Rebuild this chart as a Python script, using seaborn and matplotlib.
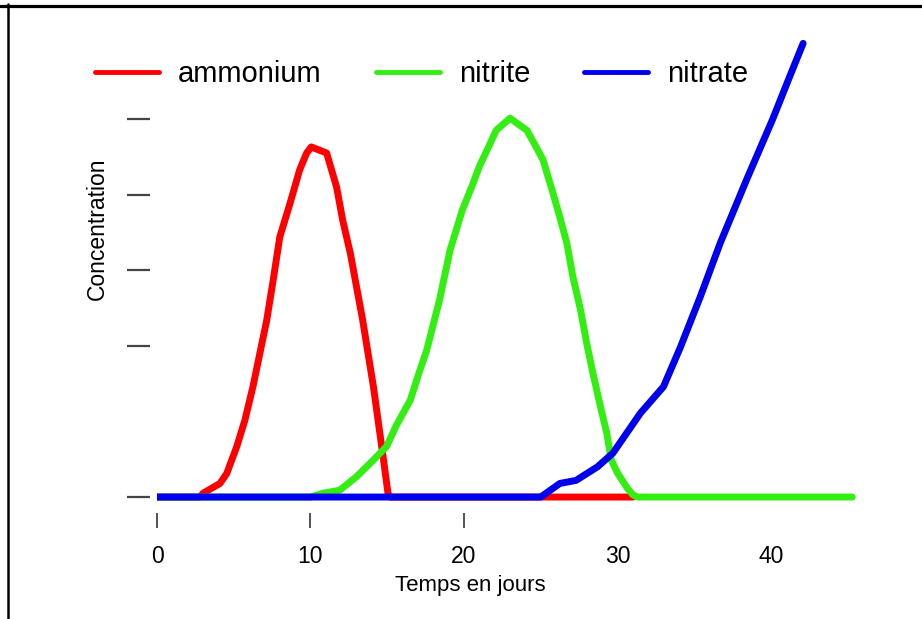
import pandas as pd
import matplotlib.pyplot as plt
import seaborn as sns
from matplotlib.lines import Line2D

# values (days, concentration in tick units)
days_ammonium = [0, 2.8, 3.0, 4.1, 4.54, 5.2, 5.73, 6.25, 6.7, 7.15, 7.57, 8.0,
                 8.66, 9.3, 9.75, 10.05, 11.05, 11.7, 12.1, 12.6, 13.0, 13.4,
                 13.75, 14.1, 14.4, 14.7, 15.05, 15.2, 31]
ammonium = [0, 0, 0.05, 0.18, 0.31, 0.67, 1.02, 1.46, 1.9, 2.34, 2.87, 3.44,
            3.88, 4.33, 4.55, 4.63, 4.55, 4.1, 3.66, 3.22, 2.78, 2.34,
            1.9, 1.46, 1.02, 0.58, 0.05, 0, 0]

days_nitrite = [0, 10, 10.8, 11.9, 13.0, 14.1, 14.96, 15.6, 16.5, 17.1, 17.57,
                18.4, 19.1, 19.9, 20.5, 21.0, 21.6, 22.1, 23.0, 24.1, 24.7,
                25.15, 25.8, 26.25, 26.7, 27.1, 27.6, 28.0, 28.4, 28.9, 29.3,
                29.6, 30.0, 30.6, 31.0, 31.3, 45.3]
nitrite = [0, 0, 0.05, 0.09, 0.27, 0.49, 0.67, 0.95, 1.28, 1.66, 1.94,
           2.6, 3.27, 3.8, 4.1, 4.37, 4.63, 4.85, 5.01, 4.85, 4.63,
           4.46, 4.02, 3.7, 3.36, 2.91, 2.47, 2.03, 1.64, 1.19, 0.85,
           0.49, 0.32, 0.13, 0.03, 0, 0]

days_nitrate = [0, 25.0, 26.25, 27.3, 28.7, 29.7, 31.5, 33.0, 34.1, 35.4, 36.7,
                38.4, 40.1, 41.4, 42.1]
nitrate = [0, 0, 0.18, 0.22, 0.4, 0.58, 1.11, 1.46, 1.98, 2.65, 3.36,
           4.19, 4.99, 5.65, 6.0]

names = ["ammonium", "nitrite", "nitrate"]
colors = ["#ff0000", "#33ee11", "#0000ee"]
x_ticks = [0, 10, 20, 30, 40]
y_ticks = [0, 2, 3, 4, 5]

df = pd.concat([
    pd.DataFrame({"jour": days_ammonium, "conc": ammonium, "ion": "ammonium"}),
    pd.DataFrame({"jour": days_nitrite, "conc": nitrite, "ion": "nitrite"}),
    pd.DataFrame({"jour": days_nitrate, "conc": nitrate, "ion": "nitrate"}),
])

sns.set_style("white")
plt.rcParams["font.family"] = ["Liberation Sans", "DejaVu Sans"]
plt.rcParams["text.color"] = "black"

fig = plt.figure(figsize=(9.22, 6.19), dpi=100)
ax = fig.add_axes([0.1703, 0.1848, 0.7657, 0.7818])

sns.lineplot(data=df, x="jour", y="conc", hue="ion", hue_order=names,
             palette=colors, estimator=None, sort=False, linewidth=5, ax=ax)

ax.set_xlim(0, 46)
ax.set_ylim(-0.1, 6.3)

for s in ["top", "right"]:
    ax.spines[s].set_visible(False)
ax.spines["left"].set_position(("outward", 5))
ax.spines["bottom"].set_position(("outward", 6))
ax.spines["left"].set_linewidth(0)
ax.spines["bottom"].set_linewidth(0)

ax.set_yticks(y_ticks)
ax.set_yticklabels([])
ax.set_xticks(x_ticks)
ax.set_xticklabels([str(t) for t in x_ticks], fontsize=16.5, color="black")
ax.tick_params(axis="y", left=True, length=16.5, width=1.6, color="#444444")
ax.tick_params(axis="x", bottom=True, length=11, width=1.3, color="#444444", pad=12)
for t in ax.xaxis.get_major_ticks()[3:]:
    t.tick1line.set_visible(False)

ax.set_xlabel("Temps en jours", fontsize=16, color="black")
ax.xaxis.set_label_coords(0.444, -0.168)
ax.xaxis.label.set_verticalalignment("center")
ax.set_ylabel("Concentration", fontsize=16.5, color="black")
ax.yaxis.set_label_coords(-0.084, 0.57)
ax.yaxis.label.set_verticalalignment("center")

handles, labels = ax.get_legend_handles_labels()
leg = ax.legend(handles, labels, loc="upper left", bbox_to_anchor=(0.103, 0.903),
                bbox_transform=fig.transFigure, ncol=3, frameon=False,
                fontsize=21, handlelength=2.2, handletextpad=0.65,
                columnspacing=1.85, borderpad=0, borderaxespad=0)
for line in leg.get_lines():
    line.set_linewidth(3.5)
for txt in leg.get_texts():
    txt.set_color("black")

# black frame on top and left of the picture
fig.add_artist(Line2D([0, 1], [1 - 5.5 / 619] * 2, color="black", lw=2.3))
fig.add_artist(Line2D([8 / 922] * 2, [0, 1 - 4 / 619], color="black", lw=1.8))

plt.savefig("out.png", dpi=100)
